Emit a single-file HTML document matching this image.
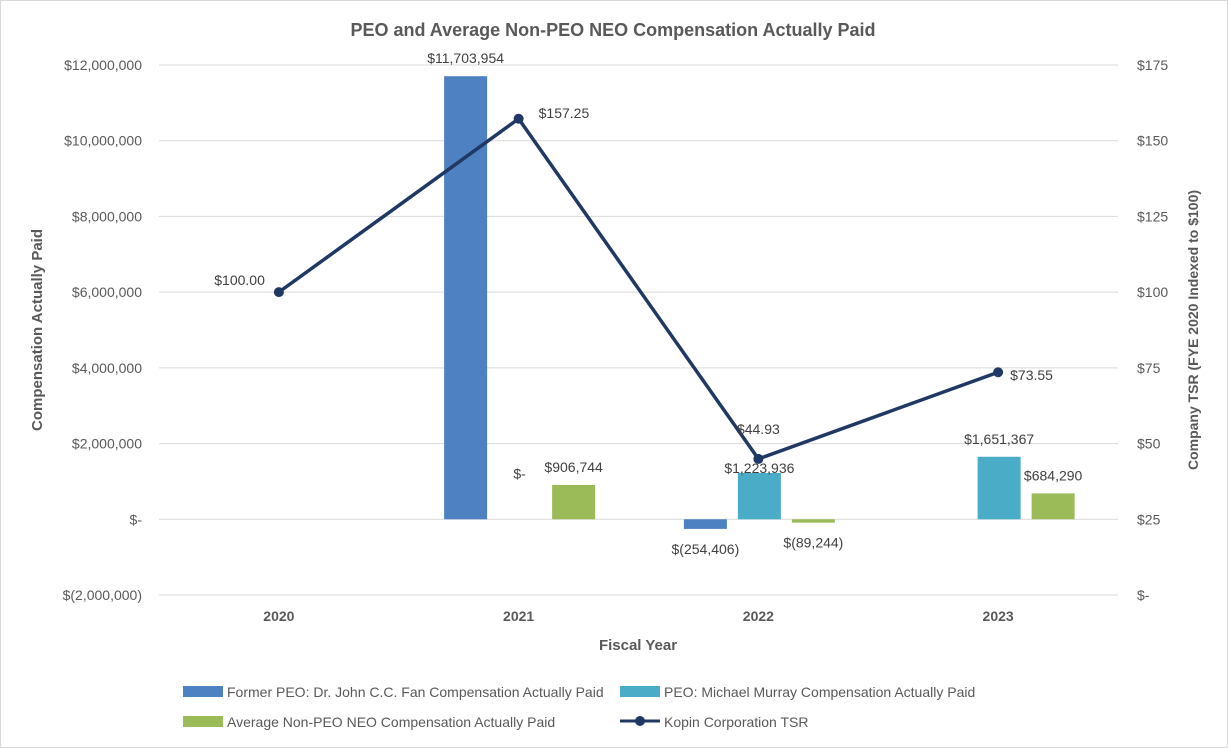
<!DOCTYPE html>
<html><head><meta charset="utf-8"><style>
body{margin:0;background:#fff;}
svg{display:block;font-family:"Liberation Sans",sans-serif;}
</style></head><body>
<svg id="c" width="1228" height="748">
<rect x="0.5" y="0.5" width="1227" height="747" fill="#fff" stroke="#d9d9d9"/>
<text x="613" y="36" text-anchor="middle" font-size="18" font-weight="bold" fill="#595959">PEO and Average Non-PEO NEO Compensation Actually Paid</text>
<g id="grid"></g><g id="marks"></g><g id="labels"></g>
<text transform="translate(42,330) rotate(-90)" text-anchor="middle" font-size="15" font-weight="bold" fill="#595959">Compensation Actually Paid</text>
<text transform="translate(1198,330) rotate(-90)" text-anchor="middle" font-size="14" font-weight="bold" fill="#595959">Company TSR (FYE 2020 Indexed to $100)</text>
<text x="638" y="650" text-anchor="middle" font-size="15" font-weight="bold" fill="#595959">Fiscal Year</text>
<g font-size="14" fill="#595959">
<rect x="183" y="686" width="40" height="11" fill="#4e81c1"/>
<text x="227" y="697">Former PEO: Dr. John C.C. Fan Compensation Actually Paid</text>
<rect x="620" y="686" width="40" height="11" fill="#4aacc6"/>
<text x="664" y="697">PEO: Michael Murray Compensation Actually Paid</text>
<rect x="183" y="716" width="40" height="11" fill="#9bbb59"/>
<text x="227" y="727">Average Non-PEO NEO Compensation Actually Paid</text>
<line x1="620" y1="721" x2="660" y2="721" stroke="#203864" stroke-width="3"/>
<circle cx="640" cy="721" r="5" fill="#203864"/>
<text x="664" y="727">Kopin Corporation TSR</text>
</g>
</svg>
<script>
const years=["2020","2021","2022","2023"];
const formerPeo=[null,11703954,-254406,null];
const peo=[null,0,1223936,1651367];
const nonPeo=[null,906744,-89244,684290];
const tsr=[100,157.25,44.93,73.55];
const leftTicks=[-2000000,0,2000000,4000000,6000000,8000000,10000000,12000000];
const rightTicks=[0,25,50,75,100,125,150,175];
const fmt=v=>v===0?"$-":(v<0?"$("+Math.abs(v).toLocaleString("en-US")+")":"$"+v.toLocaleString("en-US"));
const X0=159,X1=1118,Y0=595,Ytop=65;
const yL=v=>Y0-(v+2000000)/14000000*(Y0-Ytop);
const yR=v=>Y0-v/175*(Y0-Ytop);
const xC=i=>X0+(i+0.5)*(X1-X0)/years.length;
const NS="http://www.w3.org/2000/svg";
function mk(p,tag,a){const e=document.createElementNS(NS,tag);for(const k in a)e.setAttribute(k,a[k]);document.getElementById(p).appendChild(e);return e;}
leftTicks.forEach(v=>{
 const l=mk("grid","line",{x1:X0,x2:X1,y1:yL(v),y2:yL(v),stroke:"#d9d9d9"});
 
 
 const t=mk("grid","text",{x:142,y:yL(v)+5,"text-anchor":"end","font-size":14,fill:"#595959"});
 t.textContent=fmt(v);
 
 
});
rightTicks.forEach(v=>{
 const t=mk("grid","text",{x:1137,y:yR(v)+5,"font-size":14,fill:"#595959"});
 t.textContent=v===0?"$-":"$"+v;
 
 
});
years.forEach((y,i)=>{
 const t=mk("grid","text",{x:xC(i),y:621,"text-anchor":"middle","font-size":14,"font-weight":"bold",fill:"#595959"});
 t.textContent=y;
 
 
});
const series=[[formerPeo,"#4e81c1",-53,"former-peo"],[peo,"#4aacc6",1,"peo"],[nonPeo,"#9bbb59",55,"non-peo"]];
const BW=43;
series.forEach(([arr,col,off,nm])=>{
 arr.forEach((v,i)=>{
  if(v===null)return;
  const cx=xC(i)+off,y1=yL(v),y0=yL(0);
  if(v!==0){
   const r=mk("marks","rect",{x:cx-BW/2,y:Math.min(y1,y0),width:BW,height:Math.abs(y1-y0),fill:col});
   
   
  }
  let ly=v>=0?(v===0?y0-41:y1-13):y1+25;
  if(nm==="peo"&&i===2)ly=y1+0;
  const t=mk("labels","text",{x:cx,y:ly,"text-anchor":"middle","font-size":14,fill:"#404040"});
  t.textContent=fmt(v);
  
  
 });
});
const pts=tsr.map((v,i)=>xC(i)+","+yR(v)).join(" ");
const pl=mk("marks","polyline",{points:pts,fill:"none",stroke:"#203864","stroke-width":3.5,"stroke-linejoin":"round"});


tsr.forEach((v,i)=>{
 const c=mk("marks","circle",{cx:xC(i),cy:yR(v),r:5,fill:"#203864"});
 
 
 const pos=[[-14,-7,"end"],[20,-1,"start"],[0,-25,"middle"],[12,8,"start"]][i];
 const t=mk("labels","text",{x:xC(i)+pos[0],y:yR(v)+pos[1],"text-anchor":pos[2],"font-size":14,fill:"#404040"});
 t.textContent="$"+v.toFixed(2);
 
 
});
</script>
</body></html>
